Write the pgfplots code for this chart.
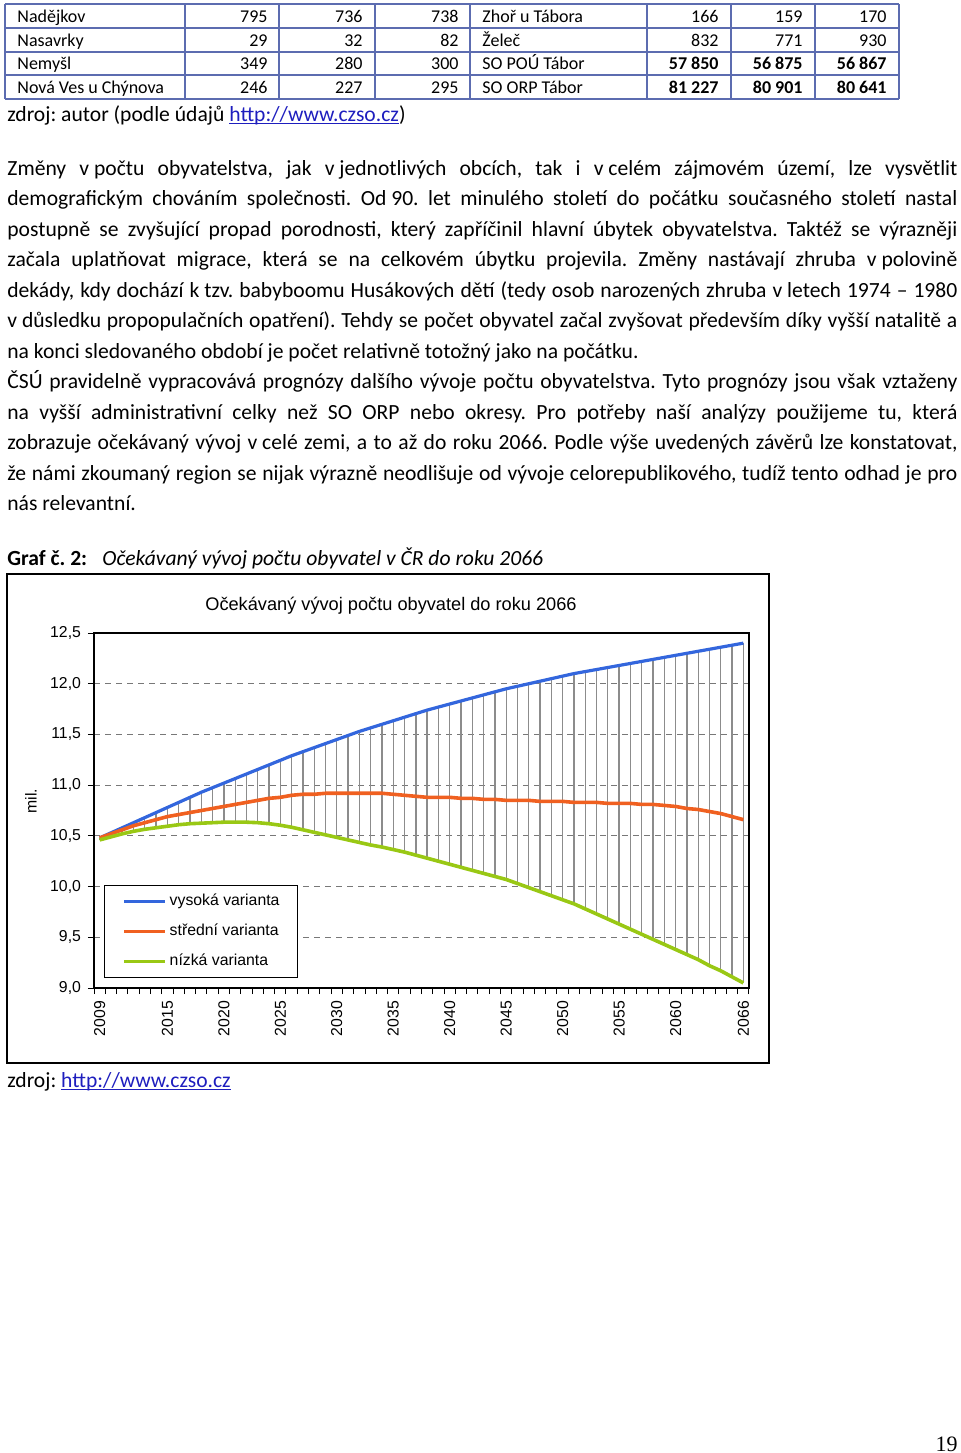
\documentclass[border=0pt]{standalone}
\usepackage{pgfplots}
\pgfplotsset{compat=1.18}
\usepackage{pgfplotstable}
\usepackage{fontspec}
\setmainfont{Carlito}
\newfontfamily\chartfont{Liberation Sans}
\newfontfamily\seriffont{Liberation Serif}
\definecolor{tblc}{RGB}{92,108,176}
\definecolor{linkc}{RGB}{30,30,190}
\definecolor{hiC}{RGB}{51,102,221}
\definecolor{midC}{RGB}{240,96,32}
\definecolor{loC}{RGB}{153,200,20}
\definecolor{dropC}{RGB}{140,140,140}
\definecolor{gridC}{RGB}{120,120,120}
\frenchspacing
\newcommand\bodyf{\fontsize{10.8}{15.25}\selectfont}
\newcommand\tabf{\fontsize{9}{10}\selectfont}
\newcommand\cf{\chartfont\fontsize{7.9}{9}\selectfont}
\newcommand\nb{\kern0.226em}
\newsavebox\lbox
\newcommand\link{\sbox\lbox{\color{linkc}http://www.czso.cz}{\color{linkc}\rlap{\usebox\lbox}\rule[-1.4pt]{\wd\lbox}{0.5pt}}}
\newcommand\jline[2]{\node[anchor=base west,inner sep=0pt,font=\bodyf] at (7,#1) {\makebox[475pt][s]{#2}};}
\newcommand\lline[2]{\node[anchor=base west,inner sep=0pt,font=\bodyf] at (7,#1) {#2};}
\newcommand\trow[9]{%
\node[anchor=base west,inner sep=0pt,font=\tabf] at (17,#1) {#2};
\node[anchor=base east,inner sep=0pt,font=\tabf] at (268,#1) {#3};
\node[anchor=base east,inner sep=0pt,font=\tabf] at (363,#1) {#4};
\node[anchor=base east,inner sep=0pt,font=\tabf] at (459,#1) {#5};
\node[anchor=base west,inner sep=0pt,font=\tabf] at (482,#1) {#6};
\node[anchor=base east,inner sep=0pt,font=\tabf] at (719,#1) {#7};
\node[anchor=base east,inner sep=0pt,font=\tabf] at (803,#1) {#8};
\node[anchor=base east,inner sep=0pt,font=\tabf] at (887,#1) {#9};}

\pgfplotstableread{
year high mid low
2009 10.48 10.48 10.46
2010 10.53 10.52 10.49
2011 10.58 10.56 10.52
2012 10.63 10.60 10.545
2013 10.68 10.63 10.565
2014 10.73 10.66 10.58
2015 10.78 10.69 10.595
2016 10.83 10.71 10.61
2017 10.88 10.73 10.62
2018 10.93 10.75 10.625
2019 10.975 10.77 10.63
2020 11.02 10.79 10.635
2021 11.065 10.81 10.635
2022 11.11 10.83 10.635
2023 11.155 10.85 10.63
2024 11.20 10.87 10.62
2025 11.245 10.88 10.605
2026 11.29 10.90 10.585
2027 11.33 10.91 10.56
2028 11.37 10.91 10.535
2029 11.41 10.92 10.51
2030 11.45 10.92 10.485
2031 11.49 10.92 10.46
2032 11.53 10.92 10.435
2033 11.565 10.92 10.41
2034 11.60 10.92 10.39
2035 11.635 10.91 10.365
2036 11.67 10.90 10.34
2037 11.705 10.89 10.31
2038 11.74 10.88 10.28
2039 11.77 10.88 10.25
2040 11.80 10.88 10.22
2041 11.83 10.87 10.19
2042 11.86 10.87 10.16
2043 11.89 10.86 10.13
2044 11.92 10.86 10.10
2045 11.95 10.85 10.07
2046 11.975 10.85 10.03
2047 12.00 10.85 9.99
2048 12.025 10.84 9.95
2049 12.05 10.84 9.91
2050 12.075 10.84 9.87
2051 12.10 10.83 9.83
2052 12.12 10.83 9.78
2053 12.14 10.83 9.73
2054 12.16 10.82 9.68
2055 12.18 10.82 9.63
2056 12.20 10.82 9.58
2057 12.22 10.81 9.53
2058 12.24 10.81 9.48
2059 12.26 10.80 9.43
2060 12.28 10.79 9.38
2061 12.30 10.77 9.33
2062 12.32 10.76 9.28
2063 12.34 10.74 9.22
2064 12.36 10.72 9.17
2065 12.38 10.69 9.11
2066 12.40 10.66 9.05
}\data

\begin{document}
\begin{tikzpicture}
\useasboundingbox (0,0) rectangle (480pt,-726.5pt);
\begin{scope}[x=0.5pt,y=-0.5pt]
% table
\draw[tblc,line width=0.9pt] (5,4) -- (899,4) (5,28) -- (899,28) (5,52) -- (899,52) (5,75) -- (899,75) (5,99) -- (899,99);
\foreach \xx in {5,185,279,375,470,647,731,815,899} \draw[tblc,line width=0.9pt] (\xx,4) -- (\xx,99);
\trow{22}{Nadějkov}{795}{736}{738}{Zhoř u Tábora}{166}{159}{170}
\trow{46}{Nasavrky}{29}{32}{82}{Želeč}{832}{771}{930}
\trow{69}{Nemyšl}{349}{280}{300}{SO POÚ Tábor}{\textbf{57 850}}{\textbf{56 875}}{\textbf{56 867}}
\trow{93}{Nová Ves u Chýnova}{246}{227}{295}{SO ORP Tábor}{\textbf{81 227}}{\textbf{80 901}}{\textbf{80 641}}
\lline{121}{zdroj: autor (podle údajů \link)}
% body text
\jline{175}{Změny v\nb počtu obyvatelstva, jak v\nb jednotlivých obcích, tak i v\nb celém zájmovém území, lze vysvětlit}
\jline{205.5}{demografickým chováním společnosti. Od\nb 90. let minulého století do počátku současného století nastal}
\jline{236}{postupně se zvyšující propad porodnosti, který zapříčinil hlavní úbytek obyvatelstva. Taktéž se výrazněji}
\jline{266.5}{začala uplatňovat migrace, která se na celkovém úbytku projevila. Změny nastávají zhruba v\nb polovině}
\jline{297}{dekády, kdy dochází k\nb tzv. babyboomu Husákových dětí (tedy osob narozených zhruba v\nb letech 1974 – 1980}
\jline{327.5}{v\nb důsledku propopulačních opatření). Tehdy se počet obyvatel začal zvyšovat především díky vyšší natalitě a}
\lline{358}{na konci sledovaného období je počet relativně totožný jako na počátku.}
\jline{388.5}{ČSÚ pravidelně vypracovává prognózy dalšího vývoje počtu obyvatelstva. Tyto prognózy jsou však vztaženy}
\jline{419}{na vyšší administrativní celky než SO ORP nebo okresy. Pro potřeby naší analýzy použijeme tu, která}
\jline{449.5}{zobrazuje očekávaný vývoj v\nb celé zemi, a to až do roku 2066. Podle výše uvedených závěrů lze konstatovat,}
\jline{480}{že námi zkoumaný region se nijak výrazně neodlišuje od vývoje celorepublikového, tudíž tento odhad je pro}
\lline{510.5}{nás relevantní.}
\lline{565}{\textbf{Graf č. 2:}}
\node[anchor=base west,inner sep=0pt,font=\bodyf\itshape] at (102,565) {Očekávaný vývoj počtu obyvatel v\nb ČR do roku 2066};
% chart frame
\draw[black,line width=0.9pt] (7,574) rectangle (769,1063);
\node[font=\chartfont\fontsize{9.1}{11}\selectfont] at (391,606) {Očekávaný vývoj počtu obyvatel do roku 2066};
\node[rotate=90,font=\cf] at (31,801) {mil.};
\lline{1087}{zdroj: \link}
\node[anchor=base east,inner sep=0pt,font=\seriffont\fontsize{11}{13}\selectfont] at (958,1451) {19};
\end{scope}
\begin{axis}[
  at={(47pt,-494pt)}, anchor=south west, scale only axis,
  width=327.5pt, height=177.5pt,
  xmin=2008.5, xmax=2066.5, ymin=9, ymax=12.5,
  axis line style={black,line width=0.6pt},
  tick align=outside, xtick pos=bottom, ytick pos=left,
  major tick length=3pt,
  tick style={black,line width=0.5pt},
  ytick={9,9.5,10,10.5,11,11.5,12,12.5},
  yticklabels={{9,0},{9,5},{10,0},{10,5},{11,0},{11,5},{12,0},{12,5}},
  yticklabel style={font=\cf},
  xtick={2008.5,2009.5,...,2066.5},
  xticklabel={\hbox{}},
  extra x ticks={2009,2015,2020,2025,2030,2035,2040,2045,2050,2055,2060,2066},
  extra x tick labels={2009,2015,2020,2025,2030,2035,2040,2045,2050,2055,2060,2066},
  extra x tick style={tick style={draw=none}, tick label style={font=\cf, rotate=90, anchor=east}},
  ymajorgrids,
  major grid style={gridC, dash pattern=on 3pt off 2.5pt, line width=0.45pt},
  legend style={at={(0.0153,0.2901)}, anchor=north west, draw=black, line width=0.5pt, fill=white,
    inner xsep=9pt, inner ysep=4.5pt, row sep=8pt, font=\cf,
    nodes={inner sep=0pt, text height=5.5pt, text depth=1.5pt},
    /tikz/every odd column/.style={column sep=1.5pt}},
  legend cell align=left,
  legend image code/.code={\draw[#1, line width=1.6pt] (0pt,0pt) -- (20.5pt,0pt);},
]
\addplot[draw=none, mark=none, forget plot,
  error bars/.cd, y dir=plus, y explicit, error mark=none,
  error bar style={draw=dropC, line width=0.65pt}]
  table[x=year, y=low, y error expr=\thisrow{high}-\thisrow{low}] {\data};
\addplot[hiC, line width=1.6pt, mark=none] table[x=year, y=high] {\data};
\addplot[midC, line width=1.8pt, mark=none] table[x=year, y=mid] {\data};
\addplot[loC, line width=1.8pt, mark=none] table[x=year, y=low] {\data};
\legend{vysoká varianta, střední varianta, nízká varianta}
\end{axis}
\end{tikzpicture}
\end{document}
